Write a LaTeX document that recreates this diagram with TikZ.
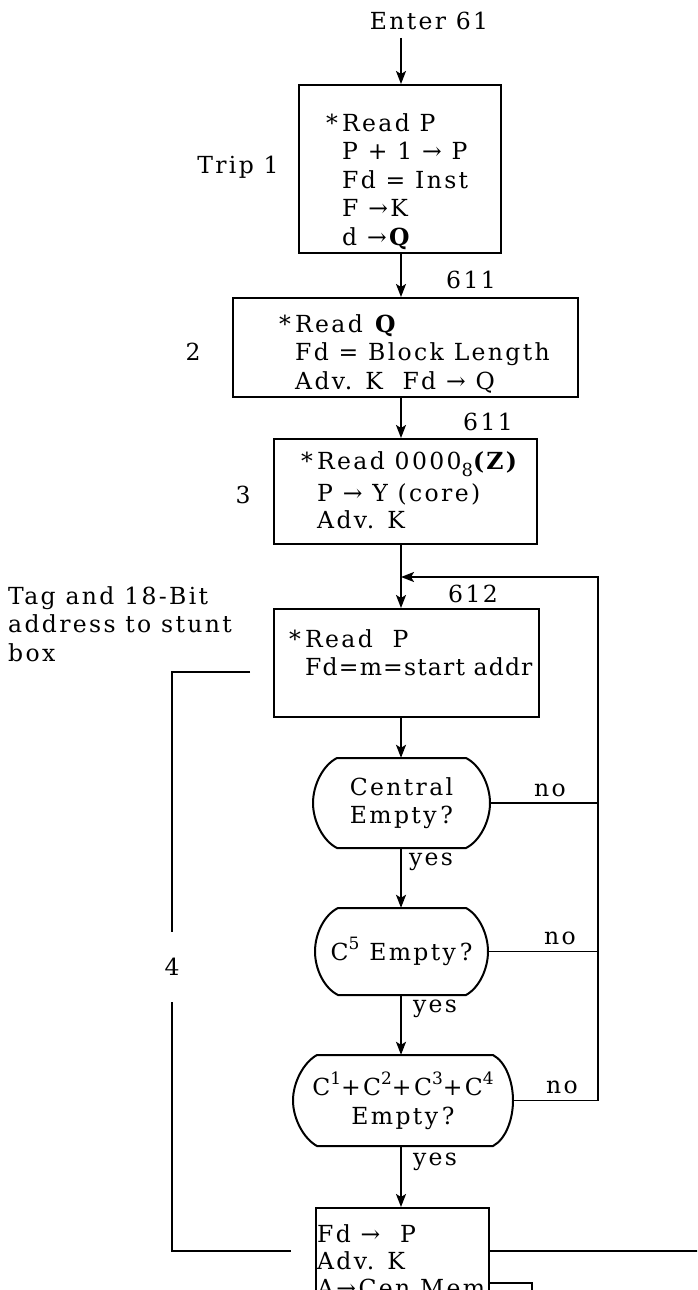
\documentclass[tikz,border=0pt]{standalone}
\usepackage{fontspec}
\setmainfont{DejaVu Serif}[LetterSpace=10]
\usetikzlibrary{arrows.meta}
\newcommand\supx[1]{\raisebox{0.5em}{\fontsize{17}{17}\selectfont #1}}
\newcommand\subx[1]{\raisebox{-0.3em}{\fontsize{18}{18}\selectfont #1}}
\newcommand\st{\makebox[16pt][l]{*}}
\newcommand\ind{\hspace*{16pt}}
\begin{document}
\begin{tikzpicture}[x=1pt,y=-1pt,
  txt/.style={font=\fontsize{23.5}{28.5}\selectfont, inner sep=0pt},
  box/.style={draw, line width=2pt, inner sep=0pt},
  dec/.style={txt, align=center},
  ln/.style={line width=1.8pt},
  arr/.style={ln, -{Stealth[length=13pt,width=10pt,inset=3pt]}},
]
\clip (0,0) rectangle (697,1290);
\fill[white] (0,0) rectangle (697,1290);
% main axis
\coordinate (ax) at (401,0);
% boxes
\node[box, minimum width=202pt, minimum height=168pt] (b1) at (400,169) {};
\node[box, minimum width=345pt, minimum height=99pt] (b2) at (405.5,347.5) {};
\node[box, minimum width=263pt, minimum height=105pt] (b3) at (405.5,491.5) {};
\node[box, minimum width=265pt, minimum height=108pt] (b4) at (406.5,663) {};
\node[box, minimum width=173pt, minimum height=122pt] (b6) at (402.5,1269) {};
% box texts
\node[txt, align=left, anchor=north west] (t1) at (326,113)
  {\st Read P\\ \ind P + 1 → P\\ \ind Fd = Inst\\ \ind F →K\\ \ind d →\textbf{Q}};
\node[txt, align=left, anchor=north west] (t2) at (279,314)
  {\st Read \textbf{Q}\\ \ind Fd = Block Length\\ \ind Adv. K\ \ Fd → Q};
\node[txt, align=left, anchor=north west] (t3) at (301,451)
  {\st Read 0000\subx{8}\textbf{(Z)}\\[4pt] \ind P → Y (core)\\[-1.5pt] \ind Adv. K};
\node[txt, align=left, anchor=north west] (t4) at (289,629)
  {\st Read\ \ P\\ \ind \addfontfeatures{LetterSpace=5}Fd=m=start addr};
\node[txt, align=left, anchor=north west] (t6) at (317,1224)
  {Fd → \ P\\[-1.5pt] Adv. K\\[-1.5pt] A→Cen Mem};
% decisions
\node[dec, minimum width=177pt, minimum height=90pt] (d1) at (401.5,803) {Central\\Empty\,?};
\node[dec, minimum width=173pt, minimum height=87pt] (d2) at (401.5,951.5) {C\supx{5} Empty\,?};
\node[dec, minimum width=220pt, minimum height=91pt] (d3) at (403,1100.5) {C\supx{1}+C\supx{2}+C\supx{3}+C\supx{4}\\Empty\,?};
\draw[box] (337,758) -- (466,758) .. controls (480,765) and (490,785) .. (490,803)
  .. controls (490,821) and (480,841) .. (466,848) -- (337,848)
  .. controls (323,841) and (313,821) .. (313,803)
  .. controls (313,785) and (323,765) .. cycle;
\draw[box] (338,908) -- (466,908) .. controls (479,915) and (488,934) .. (488,951.5)
  .. controls (488,969) and (479,988) .. (466,995) -- (338,995)
  .. controls (324,988) and (315,969) .. (315,951.5)
  .. controls (315,934) and (324,915) .. cycle;
\draw[box] (317,1055) -- (493,1055) .. controls (506,1062) and (513,1082) .. (513,1100.5)
  .. controls (513,1119) and (506,1139) .. (493,1146) -- (317,1146)
  .. controls (304,1139) and (293,1119) .. (293,1100.5)
  .. controls (293,1082) and (304,1062) .. cycle;
% labels
\node[txt] (enter) at (429,21) {Enter 61};
\node[txt] (trip) at (238,167) {Trip 1};
\node[txt] (n2) at (193,352) {2};
\node[txt] (n3) at (243,495) {3};
\node[txt] (n4) at (172,967) {4};
\node[txt] (l611a) at (471,280) {611};
\node[txt] (l611b) at (488,422) {611};
\node[txt] (l612) at (473,594) {612};
\node[txt, align=left, anchor=north west] (tag) at (8,586) {Tag and 18-Bit\\address to stunt\\box};
\node[txt] (no1) at (550,790) {no};
\node[txt] (no2) at (560,938) {no};
\node[txt] (no3) at (562,1087) {no};
\node[txt] (y1) at (431,862) {yes};
\node[txt] (y2) at (435,1009) {yes};
\node[txt] (y3) at (435,1162) {yes};
% main flow
\coordinate (e0) at (401,38);
\draw[arr] (e0) -- (b1.north -| ax);
\draw[arr] (b1.south -| ax) -- (b2.north -| ax);
\draw[arr] (b2.south -| ax) -- (b3.north -| ax);
\draw[arr] (b3.south -| ax) -- (b4.north -| ax);
\draw[arr] (b4.south -| ax) -- (d1.north -| ax);
\draw[arr] (d1.south -| ax) -- (d2.north -| ax);
\draw[arr] (d2.south -| ax) -- (d3.north -| ax);
\draw[arr] (d3.south -| ax) -- (b6.north -| ax);
% right loop
\coordinate (rx) at (598,0);
\coordinate (lt) at (598,577);
\coordinate (mg) at (401,577);
\draw[ln] (d1.east) -- (d1.east -| rx);
\draw[ln] (d2.east) -- (d2.east -| rx);
\draw[arr] (d3.east) -- (d3.east -| rx) -- (lt) -- (mg);
% left loop
\coordinate (l1) at (250,672);
\coordinate (l2) at (172,672);
\coordinate (l3) at (172,932);
\coordinate (l4) at (172,1002);
\coordinate (l5) at (172,1251);
\coordinate (l6) at (291,1251);
\draw[ln] (l1) -- (l2) -- (l3);
\draw[ln] (l4) -- (l5) -- (l6);
% bottom right
\coordinate (rr) at (700,1251);
\coordinate (h1) at (532,1283);
\coordinate (h2) at (532,1300);
\draw[ln] (b6.east |- rr) -- (rr);
\draw[ln] (b6.east |- h1) -- (h1) -- (h2);
\end{tikzpicture}
\end{document}
